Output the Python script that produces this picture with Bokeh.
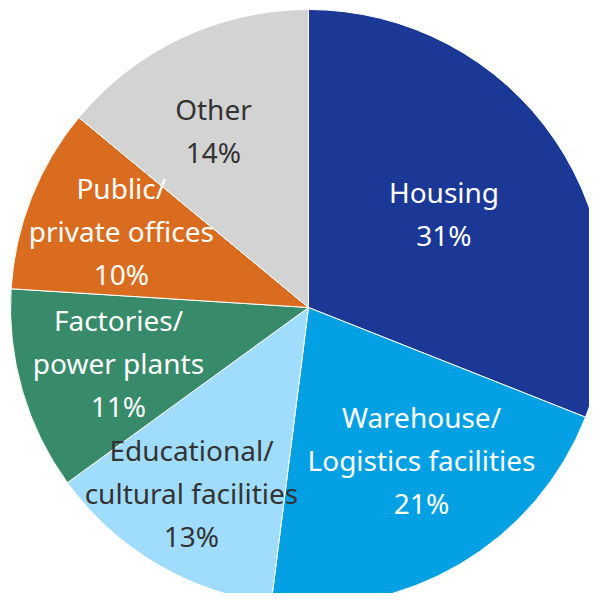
import math
from bokeh.plotting import figure
from bokeh.models import ColumnDataSource
from bokeh.core.properties import value
from bokeh.embed import file_html
from bokeh.resources import INLINE

# data (clockwise from 12 o'clock)
categories = ["Housing", "Warehouse/\nLogistics facilities", "Educational/\ncultural facilities",
              "Factories/\npower plants", "Public/\nprivate offices", "Other"]
shares = [31, 21, 13, 11, 10, 14]
colors = ["#1b3896", "#03a0e4", "#a0dcfb", "#378a6a", "#d96c1f", "#d3d3d3"]
text_colors = ["white", "white", "#333333", "white", "white", "#333333"]

# layout
W, H = 589, 593
CX, CY = 308, H - 307
R = 298
label_r = [0.553, 0.636, 0.735, 0.664, 0.678, 0.675]
label_dang = [0.5, 6.0, -1.7, 0.0, -0.5, 3.0]
font_px = 28
line_gap = 43

p = figure(width=W, height=H, x_range=(0, W), y_range=(0, H),
           output_backend="svg", toolbar_location=None, min_border=0)
p.axis.visible = False
p.grid.visible = False
p.outline_line_color = None
p.background_fill_color = "white"
p.border_fill_color = "white"

total = sum(shares)
starts, ends, mids = [], [], []
cum = 0.0
for s in shares:
    a0 = math.pi / 2 - 2 * math.pi * cum / total
    cum += s
    a1 = math.pi / 2 - 2 * math.pi * cum / total
    starts.append(a0)
    ends.append(a1)
    mids.append((a0 + a1) / 2)

src = ColumnDataSource(dict(x=[CX] * len(shares), y=[CY] * len(shares),
                            start=starts, end=ends, color=colors))
p.wedge(x="x", y="y", radius=R, start_angle="start", end_angle="end",
        direction="clock", fill_color="color", line_color="white", line_width=1,
        source=src)

tx, ty, tt, tc = [], [], [], []
for cat, s, m, rf, da, col in zip(categories, shares, mids, label_r, label_dang, text_colors):
    lines = cat.split("\n") + [f"{s}%"]
    a = m + math.radians(da)
    lx = CX + rf * R * math.cos(a)
    ly = CY + rf * R * math.sin(a)
    n = len(lines)
    for i, ln in enumerate(lines):
        tx.append(lx)
        ty.append(ly + ((n - 1) / 2 - i) * line_gap)
        tt.append(ln)
        tc.append(col)

p.text(x=tx, y=ty, text=tt, text_color=tc, text_align="center",
       text_baseline="middle", text_font=value("Noto Sans"),
       text_font_size=f"{font_px}px")

open("out.html", "w").write(file_html(p, INLINE))
